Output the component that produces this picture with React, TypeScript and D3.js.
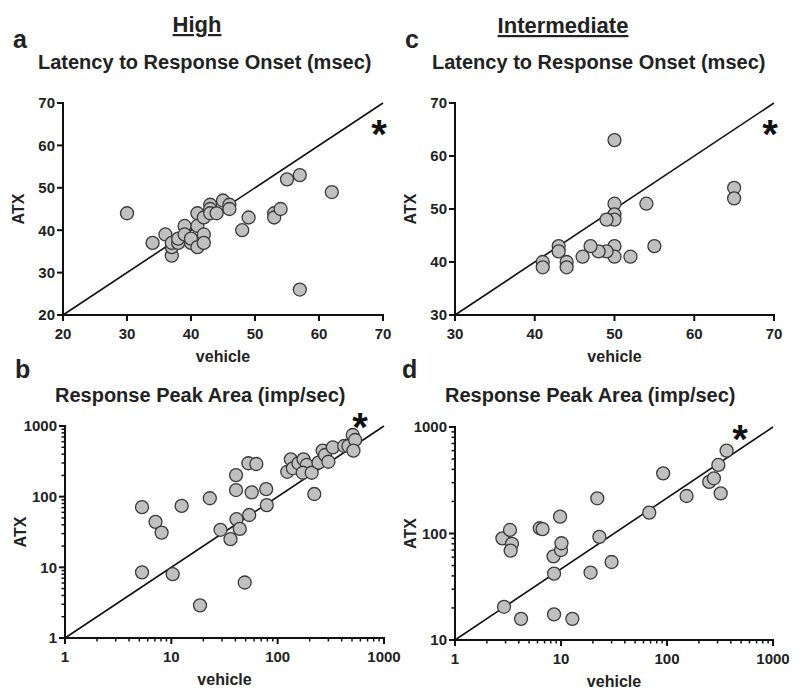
import React from "react";
import * as d3 from "d3";

// ---- data (vehicle, ATX) ----
const highLatency: [number, number][] = [
  [30, 44], [34, 37], [36, 39], [37, 34], [37, 36], [37, 37], [38, 37], [38, 38],
  [39, 41], [39, 39], [40, 37], [40, 38], [41, 44], [41, 41], [41, 36], [42, 39],
  [42, 37], [42, 43], [43, 46], [43, 45], [43, 44], [44, 44], [45, 47], [46, 46],
  [46, 45], [48, 40], [49, 43], [53, 44], [53, 43], [54, 45], [55, 52], [57, 53],
  [62, 49], [57, 26],
];
const interLatency: [number, number][] = [
  [50, 63], [50, 51], [50, 49], [50, 48], [49, 48], [54, 51], [65, 54], [65, 52],
  [55, 43], [52, 41], [50, 43], [50, 41], [49, 42], [48, 42], [47, 43], [46, 41],
  [44, 40], [44, 39], [43, 43], [43, 42], [41, 40], [41, 39],
];
const highArea: [number, number][] = [
  [5.3, 71], [5.3, 8.5], [7.1, 44], [8.1, 31], [10.3, 8], [12.5, 74], [23, 95],
  [18.6, 2.9], [29, 34], [36, 25], [41, 48], [44, 35], [40.6, 124], [40.6, 202],
  [49, 6.1], [54, 55], [57, 115], [53, 297], [63, 290], [78, 128], [79, 76],
  [123, 225], [133, 338], [139, 252], [157, 297], [175, 338], [188, 281], [172, 218],
  [209, 218], [221, 109], [242, 303], [265, 448], [279, 389], [300, 312], [330, 499],
  [422, 521], [463, 521], [508, 746], [535, 634], [516, 448],
];
const interArea: [number, number][] = [
  [2.8, 90], [3.3, 108], [3.45, 80], [3.35, 69], [2.9, 20.5], [4.2, 15.8], [6.3, 112],
  [6.7, 110], [8.5, 61], [8.6, 42], [8.6, 17.4], [9.8, 144], [10, 70], [10.1, 81],
  [12.8, 15.8], [19, 43], [22, 214], [23, 93], [30, 54], [68, 157], [92, 367],
  [153, 225], [250, 305], [277, 330], [305, 440], [321, 238], [365, 600],
];

// ---- tick labels ----
const highLatencyTicks = [20, 30, 40, 50, 60, 70];
const interLatencyTicks = [30, 40, 50, 60, 70];
const logTicks = [1, 10, 100, 1000];
const logTicksD = [10, 100, 1000];

const groupTitles = ["High", "Intermediate"];
const panelLetters = ["a", "b", "c", "d"];
const latencyTitle = "Latency to Response Onset (msec)";
const areaTitle = "Response Peak Area (imp/sec)";
const xLabel = "vehicle";
const yLabel = "ATX";

const FONT = "'Liberation Sans', Arial, Helvetica, sans-serif";

type PanelProps = {
  left: number; right: number; top: number; bottom: number;
  log: boolean;
  xDomain: [number, number]; yDomain: [number, number];
  xTicks: number[]; yTicks: number[];
  data: [number, number][];
  star: [number, number];
};

function Panel(p: PanelProps) {
  const xs = p.log
    ? d3.scaleLog().domain(p.xDomain).range([p.left, p.right])
    : d3.scaleLinear().domain(p.xDomain).range([p.left, p.right]);
  const ys = p.log
    ? d3.scaleLog().domain(p.yDomain).range([p.bottom, p.top])
    : d3.scaleLinear().domain(p.yDomain).range([p.bottom, p.top]);

  const minor = (dom: [number, number]) => {
    if (!p.log) return [] as number[];
    const out: number[] = [];
    for (let dec = dom[0]; dec < dom[1]; dec *= 10)
      for (let k = 2; k <= 9; k++) out.push(dec * k);
    return out;
  };

  const cx = (p.left + p.right) / 2;
  const cy = (p.top + p.bottom) / 2;

  return (
    <g>
      {/* reference line, corner to corner */}
      <line x1={xs(p.xDomain[0])} y1={ys(p.yDomain[0])} x2={xs(p.xDomain[1])} y2={ys(p.yDomain[1])} stroke="#111" strokeWidth={1.6} />
      {/* points */}
      {p.data.map((d, i) => (
        <circle key={i} cx={xs(d[0])} cy={ys(d[1])} r={6.5} fill="#c0c0c0" stroke="#3a3a3a" strokeWidth={1.3} />
      ))}
      {/* axes */}
      <line x1={p.left} y1={p.bottom} x2={p.right + 1} y2={p.bottom} stroke="#111" strokeWidth={2} />
      <line x1={p.left} y1={p.top - 1} x2={p.left} y2={p.bottom + 1} stroke="#111" strokeWidth={2} />
      {p.xTicks.map((t) => (
        <g key={"xt" + t}>
          <line x1={xs(t)} x2={xs(t)} y1={p.bottom} y2={p.bottom + 6} stroke="#111" strokeWidth={2} />
          <text x={xs(t)} y={p.bottom + 24} textAnchor="middle" fontSize={15} fontWeight="bold" fill="#222">{t}</text>
        </g>
      ))}
      {minor(p.xDomain).map((t) => (
        <line key={"xm" + t} x1={xs(t)} x2={xs(t)} y1={p.bottom} y2={p.bottom + 3.5} stroke="#111" strokeWidth={1.5} />
      ))}
      {p.yTicks.map((t) => (
        <g key={"yt" + t}>
          <line x1={p.left - 6} x2={p.left} y1={ys(t)} y2={ys(t)} stroke="#111" strokeWidth={2} />
          <text x={p.left - 8} y={ys(t) + 5.4} textAnchor="end" fontSize={15} fontWeight="bold" fill="#222">{t}</text>
        </g>
      ))}
      {minor(p.yDomain).map((t) => (
        <line key={"ym" + t} x1={p.left - 3.5} x2={p.left} y1={ys(t)} y2={ys(t)} stroke="#111" strokeWidth={1.5} />
      ))}
      <text x={cx} y={p.bottom + 47} textAnchor="middle" fontSize={16} fontWeight="bold" fill="#222">{xLabel}</text>
      <text transform={`translate(${p.left - 39},${cy}) rotate(-90)`} textAnchor="middle" fontSize={16} fontWeight="bold" fill="#222">{yLabel}</text>
      <text x={p.star[0]} y={p.star[1] + 22} textAnchor="middle" fontSize={40} fontWeight="bold" fill="#111">*</text>
    </g>
  );
}

export default function App() {
  return (
    <svg width={800} height={698} style={{ position: "absolute", left: 0, top: 0, background: "#fff" }} fontFamily={FONT}>
      <rect width={800} height={698} fill="#fff" />
      <text x={197} y={32} textAnchor="middle" fontSize={22} fontWeight="bold" fill="#222" textDecoration="underline">{groupTitles[0]}</text>
      <text x={563} y={33} textAnchor="middle" fontSize={22} fontWeight="bold" fill="#222" textDecoration="underline">{groupTitles[1]}</text>

      <text x={13} y={48} fontSize={25} fontWeight="bold" fill="#222">{panelLetters[0]}</text>
      <text x={15} y={378} fontSize={25} fontWeight="bold" fill="#222">{panelLetters[1]}</text>
      <text x={405} y={48} fontSize={25} fontWeight="bold" fill="#222">{panelLetters[2]}</text>
      <text x={402} y={378} fontSize={25} fontWeight="bold" fill="#222">{panelLetters[3]}</text>

      <text x={38} y={69} fontSize={20} fontWeight="bold" fill="#222">{latencyTitle}</text>
      <text x={432} y={69} fontSize={20} fontWeight="bold" fill="#222">{latencyTitle}</text>
      <text x={55} y={402} fontSize={20} fontWeight="bold" fill="#222">{areaTitle}</text>
      <text x={445} y={402} fontSize={20} fontWeight="bold" fill="#222">{areaTitle}</text>

      <Panel left={63} right={383} top={103} bottom={315} log={false}
        xDomain={[20, 70]} yDomain={[20, 70]} xTicks={highLatencyTicks} yTicks={highLatencyTicks}
        data={highLatency} star={[379, 126]} />
      <Panel left={455} right={774} top={103} bottom={315} log={false}
        xDomain={[30, 70]} yDomain={[30, 70]} xTicks={interLatencyTicks} yTicks={interLatencyTicks}
        data={interLatency} star={[770, 126]} />
      <Panel left={65} right={384} top={426} bottom={638} log={true}
        xDomain={[1, 1000]} yDomain={[1, 1000]} xTicks={logTicks} yTicks={logTicks}
        data={highArea} star={[360, 419]} />
      <Panel left={455} right={773} top={427} bottom={640} log={true}
        xDomain={[1, 1000]} yDomain={[10, 1000]} xTicks={logTicks} yTicks={logTicksD}
        data={interArea} star={[740, 431]} />
    </svg>
  );
}
